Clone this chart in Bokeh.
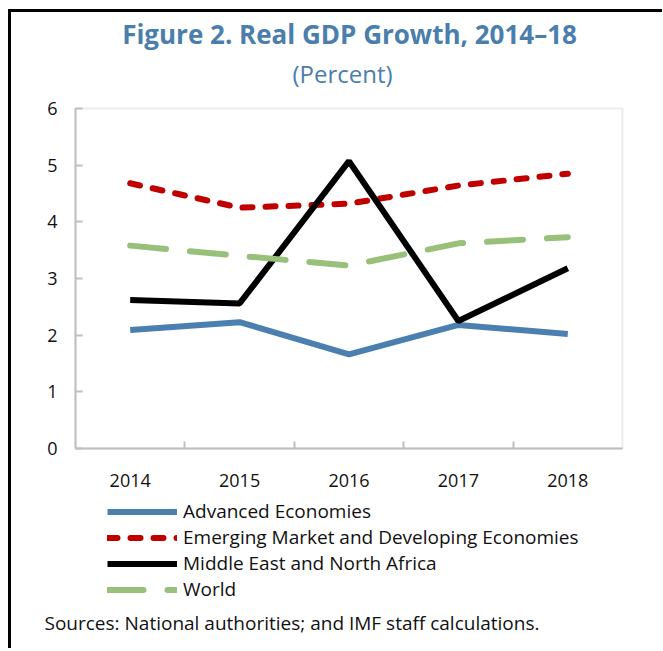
from bokeh.plotting import figure
from bokeh.models import (Range1d, FixedTicker, Legend, LegendItem, Label,
                          BoxAnnotation)
from bokeh.embed import file_html
from bokeh.resources import INLINE

years = [2014, 2015, 2016, 2017, 2018]
advanced = [2.09, 2.23, 1.66, 2.18, 2.02]
emerging = [4.68, 4.25, 4.32, 4.64, 4.85]
mena = [2.62, 2.56, 5.07, 2.25, 3.18]
world = [3.58, 3.40, 3.23, 3.62, 3.73]
y_ticks = [0, 1, 2, 3, 4, 5, 6]
between_ticks = [2014.5, 2015.5, 2016.5, 2017.5]

title_text = "Figure 2. Real GDP Growth, 2014\u201318"
subtitle_text = "(Percent)"
source_text = "Sources: National authorities; and IMF staff calculations."
labels = ["Advanced Economies", "Emerging Market and Developing Economies",
          "Middle East and North Africa", "World"]

FONT = "Open Sans"
BLUE_T = "#4a7eac"
GREY = "#bfbfbf"

# ---- layout (page pixels) ----
ORG_X, ORG_Y = 11, 12            # canvas origin on the page
CW, CH = 651, 636                # canvas size
BOX_L, BOX_R, BOX_T, BOX_B = 75, 622, 108, 448   # chart box on the page
X0, X1, Y0, Y1 = 2013.5, 2018.5, 0, 6
PX = (BOX_R - BOX_L) / (X1 - X0)
PY = (BOX_B - BOX_T) / (Y1 - Y0)


def dx(page_x):
    return X0 + (page_x - BOX_L) / PX


def dy(page_y):
    return Y0 + (BOX_B - page_y) / PY


x_range = Range1d(dx(ORG_X), dx(ORG_X + CW))
y_range = Range1d(dy(ORG_Y + CH), dy(ORG_Y))

p = figure(frame_width=CW, frame_height=CH, output_backend="svg",
           toolbar_location=None, x_range=x_range, y_range=y_range,
           min_border=0)
p.styles = {"border-left": "3px solid black", "border-top": "3px solid black",
            "margin-left": "8px", "margin-top": "9px"}
p.background_fill_color = "white"
p.border_fill_color = "white"
p.outline_line_color = None
p.xgrid.visible = False
p.ygrid.visible = False

xa = p.xaxis[0]
ya = p.yaxis[0]
for ax in (xa, ya):
    ax.axis_line_color = GREY
    ax.axis_line_width = 2
    ax.major_label_text_font = FONT
    ax.major_label_text_font_size = "18px"
    ax.major_label_text_color = "#111111"

xa.fixed_location = Y0
xa.bounds = (X0, X1)
xa.ticker = FixedTicker(ticks=years, minor_ticks=between_ticks)
xa.major_tick_line_color = None
xa.minor_tick_line_color = GREY
xa.minor_tick_line_width = 2
xa.minor_tick_in = 7
xa.minor_tick_out = 0
xa.major_label_standoff = 19

ya.fixed_location = X0
ya.bounds = (Y0, Y1)
ya.ticker = FixedTicker(ticks=y_ticks)
ya.major_tick_line_color = GREY
ya.major_tick_line_width = 2
ya.major_tick_in = 7
ya.major_tick_out = 0
ya.minor_tick_line_color = None
ya.major_label_standoff = 18

# chart box outline
p.add_layout(BoxAnnotation(left=X0, right=X1, bottom=Y0, top=Y1,
                           fill_alpha=0, line_color=GREY, line_width=2))

r_adv = p.line(years, advanced, line_color="#4a7fb0", line_width=6)
r_em = p.line(years, emerging, line_color="#c00000", line_width=6,
              line_dash="10 13", line_cap="round")
r_mena = p.line(years, mena, line_color="black", line_width=6)
r_world = p.line(years, world, line_color="#98c07a", line_width=6,
                 line_dash="36 24", line_cap="round")

legend = Legend(items=[LegendItem(label=labels[0], renderers=[r_adv]),
                       LegendItem(label=labels[1], renderers=[r_em]),
                       LegendItem(label=labels[2], renderers=[r_mena]),
                       LegendItem(label=labels[3], renderers=[r_world])],
                location=(107 - ORG_X, ORG_Y + CH - 602),
                orientation="vertical",
                padding=0, margin=0, spacing=0,
                glyph_width=70, glyph_height=25, label_height=25,
                label_standoff=6, border_line_color=None,
                background_fill_alpha=0,
                label_text_font=FONT, label_text_font_size="19px",
                label_text_line_height=1.0,
                label_text_color="#111111")
p.add_layout(legend, "center")

p.add_layout(Label(x=dx(349), y=dy(33), text=title_text, text_align="center",
                   text_baseline="middle", text_font=FONT,
                   text_font_style="bold", text_font_size="26px",
                   text_color=BLUE_T))
p.add_layout(Label(x=dx(342), y=dy(73), text=subtitle_text,
                   text_align="center", text_baseline="middle",
                   text_font=FONT, text_font_size="24px", text_color=BLUE_T))
p.add_layout(Label(x=dx(44), y=dy(622), text=source_text, text_align="left",
                   text_baseline="middle", text_font=FONT,
                   text_font_size="19px", text_color="#111111"))

open("out.html", "w").write(file_html(p, INLINE))
